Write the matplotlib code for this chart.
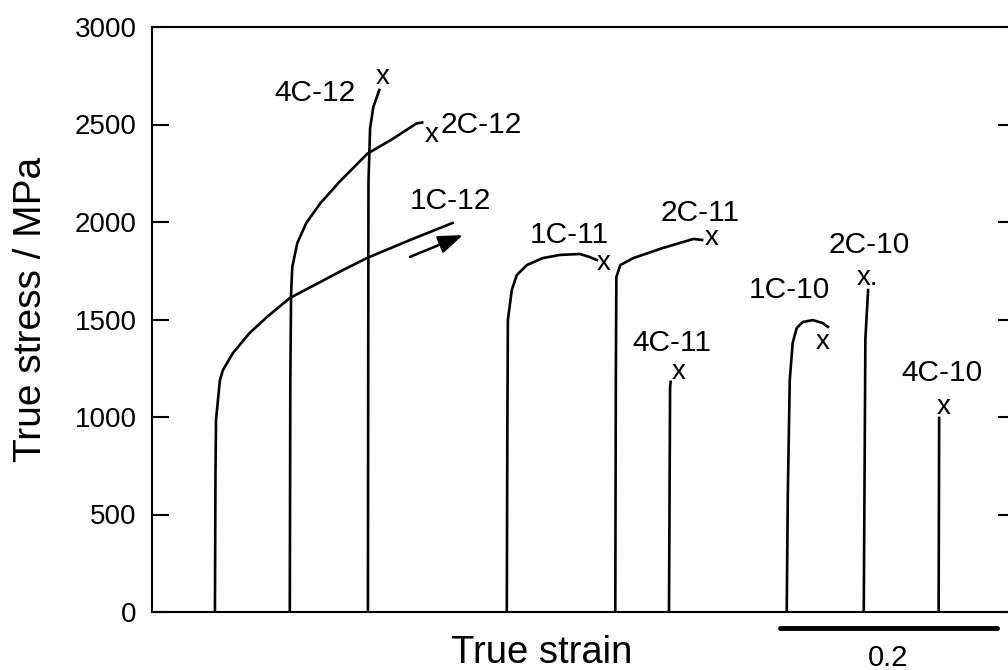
import matplotlib
matplotlib.use("Agg")
import matplotlib.pyplot as plt
import matplotlib.transforms as mtransforms

plt.rcParams['font.family'] = ['Liberation Sans', 'DejaVu Sans']

# stress-strain curves, strain measured from each curve's own start
names = ['1C-12', '2C-12', '4C-12', '1C-11', '2C-11', '4C-11', '1C-10', '2C-10', '4C-10']
strain = {
    '1C-12': [0, 0.0005, 0.001, 0.0046, 0.0074, 0.0166, 0.032, 0.048, 0.069, 0.097, 0.115,
              0.140, 0.180, 0.219],
    '2C-12': [0, 0.0005, 0.0012, 0.0023, 0.0069, 0.0152, 0.028, 0.0456, 0.0714, 0.0945,
              0.1166, 0.122],
    '4C-12': [0, 0.0005, 0.002, 0.005, 0.0105],
    '1C-11': [0, 0.0005, 0.001, 0.0046, 0.0092, 0.0184, 0.0332, 0.0488, 0.0673, 0.0765, 0.083],
    '2C-11': [0, 0.0005, 0.001, 0.0046, 0.0166, 0.044, 0.072, 0.080],
    '4C-11': [0, 0.001, 0.0015],
    '1C-10': [0, 0.001, 0.0028, 0.0055, 0.0092, 0.0147, 0.024, 0.033, 0.038],
    '2C-10': [0, 0.0015, 0.004],
    '4C-10': [0, 0.0005],
}
stress = {
    '1C-12': [0, 700, 985, 1190, 1241, 1328, 1431, 1513, 1610, 1692, 1745, 1815, 1908, 1995],
    '2C-12': [0, 1200, 1636, 1769, 1892, 1995, 2095, 2205, 2350, 2425, 2505, 2510],
    '4C-12': [0, 2200, 2480, 2590, 2677],
    '1C-11': [0, 900, 1497, 1651, 1728, 1779, 1815, 1831, 1836, 1820, 1805],
    '2C-11': [0, 1200, 1718, 1779, 1815, 1867, 1913, 1908],
    '4C-11': [0, 1150, 1180],
    '1C-10': [0, 600, 1190, 1380, 1456, 1487, 1497, 1482, 1462],
    '2C-10': [0, 1400, 1651],
    '4C-10': [0, 995],
}
yticks = [0, 500, 1000, 1500, 2000, 2500, 3000]

# curves are shifted along the strain axis so they don't overlap
offset = {'1C-12': 0.058, '2C-12': 0.127, '4C-12': 0.199, '1C-11': 0.327, '2C-11': 0.427,
          '4C-11': 0.4765, '1C-10': 0.585, '2C-10': 0.656, '4C-10': 0.725}
label_pos = {'1C-12': (0.275, 2108), '2C-12': (0.303, 2497), '4C-12': (0.150, 2662),
             '1C-11': (0.385, 1933), '2C-11': (0.505, 2046), '4C-11': (0.479, 1379),
             '1C-10': (0.587, 1651), '2C-10': (0.661, 1882), '4C-10': (0.728, 1226)}
# fracture mark, pixel offset from the last point
mark_off = {'2C-12': (9, -12), '4C-12': (3, 13), '1C-11': (7, -3), '2C-11': (10, 2),
            '4C-11': (8, 10), '1C-10': (-5, -15), '2C-10': (-1, 12), '4C-10': (4, 11)}

fig = plt.figure(figsize=(10.08, 6.70), dpi=100)
ax = fig.add_axes([152/1008, 58/670, 863/1008, 585/670])

for n in names:
    x = [s + offset[n] for s in strain[n]]
    ax.plot(x, stress[n], color='k', lw=1.9, solid_joinstyle='round')
    ax.text(label_pos[n][0], label_pos[n][1], n, fontsize=21.5, ha='center', va='center')
    if n in mark_off:
        ax.annotate('x.' if n == '2C-10' else 'x', xy=(x[-1], stress[n][-1]),
                    xytext=mark_off[n], textcoords='offset pixels',
                    fontsize=20, ha='center', va='center')

# arrow: 1C-12 goes on beyond the plotted part
ax.annotate('', xy=(0.2866, 1933), xytext=(0.2378, 1821),
            arrowprops=dict(arrowstyle='-|>,head_length=0.6,head_width=0.22',
                            lw=1.8, color='k', mutation_scale=25, shrinkA=0, shrinkB=0))

ax.set_xlim(0, 0.7954)
ax.set_ylim(0, 3000)
ax.set_yticks(yticks)
ax.set_xticks([])
ax.tick_params(axis='y', direction='in', length=12, width=1.5, labelsize=20, pad=11,
               right=True)
for sp in ax.spines.values():
    sp.set_linewidth(1.5)

# strain scale bar under the axis
trans = mtransforms.blended_transform_factory(ax.transData, ax.transAxes)
ax.plot([0.5788, 0.7788], [-0.0274, -0.0274], color='k', lw=3.5, transform=trans,
        clip_on=False, solid_capstyle='round')
ax.text(0.678, -0.078, '0.2', fontsize=21, ha='center', va='center', transform=trans)

fig.text(542/1008, 1 - 653/670, 'True strain', fontsize=27.5, ha='center', va='center')
fig.text(31/1008, 1 - 309/670, 'True stress / MPa', fontsize=28, ha='center', va='center',
         rotation=90)

fig.savefig('out.png', dpi=100)
